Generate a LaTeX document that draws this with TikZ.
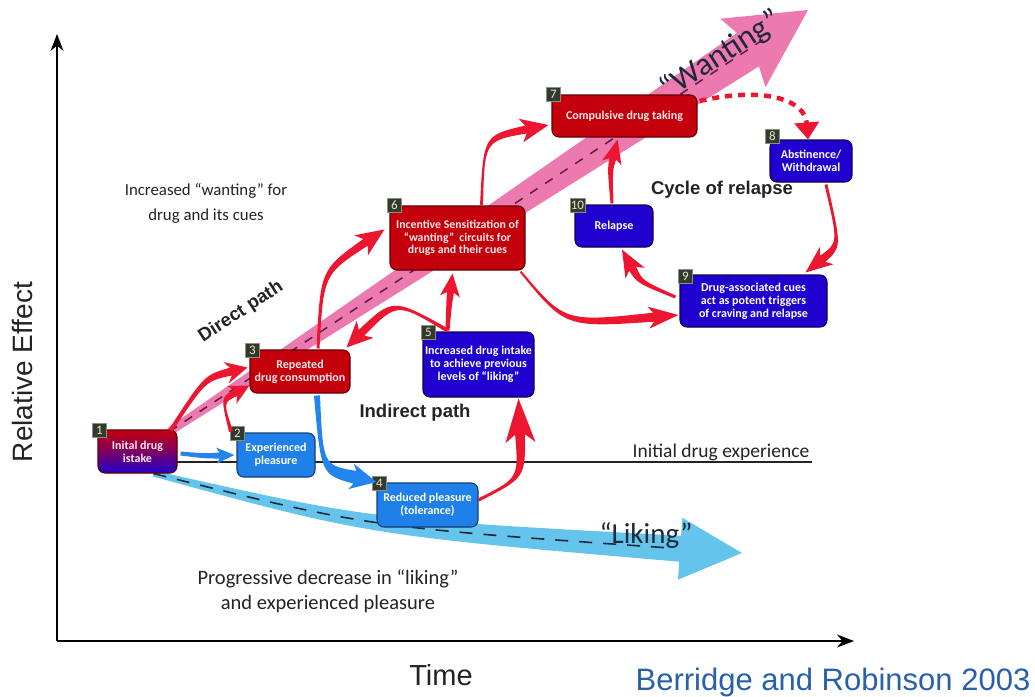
\documentclass[tikz,border=0pt]{standalone}
\usepackage{fontspec}
\setmainfont{Carlito}
\newfontfamily\arialfont{Liberation Sans}
\usetikzlibrary{calc,arrows.meta}

\definecolor{boxred}{RGB}{196,0,12}
\definecolor{boxredline}{RGB}{100,0,0}
\definecolor{boxblue}{RGB}{32,128,234}
\definecolor{boxblueline}{RGB}{20,60,120}
\definecolor{boxdeep}{RGB}{32,0,206}
\definecolor{boxdeepline}{RGB}{20,0,80}
\definecolor{arrred}{RGB}{236,22,48}
\definecolor{arrblue}{RGB}{34,132,236}
\definecolor{wantpink}{RGB}{236,122,174}
\definecolor{wantdash}{RGB}{100,25,70}
\definecolor{likeblue}{RGB}{100,196,236}
\definecolor{likedash}{RGB}{30,40,60}
\definecolor{tagfill}{RGB}{48,58,46}
\definecolor{tagtext}{RGB}{235,230,200}
\definecolor{citeblue}{RGB}{40,96,170}
\definecolor{inktext}{RGB}{35,35,35}

\pgfdeclarelayer{paper}
\pgfdeclarelayer{back}
\pgfsetlayers{paper,back,main}

% Tapered, curved arrow: start, control, tip, tail half-width,
% shaft half-width at the head, head half-width, head length,
% barb sweep, fill style
\newcommand\fatarrow[9]{%
  \coordinate (fa-s) at (#1);
  \coordinate (fa-c) at (#2);
  \coordinate (fa-e) at (#3);
  \coordinate (fa-b) at ($(fa-e)!#7pt!(fa-c)$);
  \pgfmathsetmacro\fabarb{#7+#8}%
  \pgfmathsetmacro\famid{0.5*(#4+#5)}%
  \coordinate (fa-k) at ($(fa-e)!\fabarb pt!(fa-c)$);
  \fill[#9] ($(fa-s)!#4pt!-90:(fa-c)$)
    .. controls ($(fa-c)!\famid pt!-90:(fa-e)$) .. ($(fa-b)!#5pt!90:(fa-c)$)
    -- ($(fa-k)!#6pt!90:(fa-c)$) -- (fa-e) -- ($(fa-k)!#6pt!-90:(fa-c)$)
    -- ($(fa-b)!#5pt!-90:(fa-c)$)
    .. controls ($(fa-c)!\famid pt!90:(fa-e)$) .. ($(fa-s)!#4pt!90:(fa-c)$)
    -- cycle;
}

\tikzset{
  box/.style={rounded corners=7pt, line width=1.1pt, align=center,
    inner sep=2pt, text=white,
    font=\fontsize{12}{13}\selectfont\bfseries},
  redbox/.style={box, fill=boxred, draw=boxredline, text={rgb,255:red,255;green,232;blue,232}},
  bluebox/.style={box, fill=boxblue, draw=boxblueline},
  deepbox/.style={box, fill=boxdeep, draw=boxdeepline},
  tag/.style={fill=tagfill, draw=tagtext!50!tagfill, line width=0.6pt,
    text=tagtext, inner sep=1pt, minimum width=14pt, minimum height=14pt,
    font=\fontsize{13}{13}\selectfont},
  axis/.style={line width=2pt, -{Stealth[length=17pt,width=13pt]}},
  plain/.style={text=inktext, align=center},
  pathlabel/.style={text=inktext, font=\arialfont\bfseries\fontsize{18.5}{18.5}\selectfont},
}

\begin{document}
\begin{tikzpicture}[x=1pt,y=-1pt]
\useasboundingbox (0,0) rectangle (1035,696);
\begin{pgfonlayer}{paper}
  \fill[white] (0,0) rectangle (1035,696);
\end{pgfonlayer}

% ---- stages ----
\node[redbox, minimum width=79pt, minimum height=43pt,
  top color=boxred, bottom color=boxdeep, middle color=boxred!55!boxdeep]
  (n1) at (137.5,451.5) {Inital drug\\istake};
\node[bluebox, minimum width=78pt, minimum height=44pt] (n2) at (276,455) {Experienced\\pleasure};
\node[redbox, minimum width=100pt, minimum height=43pt] (n3) at (300,371.5) {Repeated\\drug consumption};
\node[bluebox, minimum width=101pt, minimum height=44pt] (n4) at (427.5,505) {Reduced pleasure\\(tolerance)};
\node[deepbox, minimum width=103pt, minimum height=65pt] (n5) at (478.5,364.5) {Increased drug intake\\to achieve previous\\levels of “liking”};
\node[redbox, minimum width=135pt, minimum height=64pt, font=\fontsize{11.8}{12.5}\selectfont\bfseries] (n6) at (457.5,238) {Incentive Sensitization of\\“wanting”\ \ circuits for\\drugs and their cues};
\node[redbox, minimum width=145pt, minimum height=42pt] (n7) at (624.5,116) {Compulsive drug taking};
\node[deepbox, minimum width=82pt, minimum height=42pt] (n8) at (811,161) {Abstinence/\\Withdrawal};
\node[deepbox, minimum width=147pt, minimum height=52pt] (n9) at (753.5,301) {Drug-associated cues\\act as potent triggers\\of craving and relapse};
\node[deepbox, minimum width=78pt, minimum height=42pt] (n10) at (614,226) {Relapse};

% ---- numbered tags ----
\node[tag] (t1) at ([shift={(2,1)}]n1.north west) {1};
\node[tag] (t2) at ([shift={(1,1)}]n2.north west) {2};
\node[tag] (t3) at ([shift={(3,1)}]n3.north west) {3};
\node[tag] (t4) at ([shift={(3,1)}]n4.north west) {4};
\node[tag] (t5) at ([shift={(6,1)}]n5.north west) {5};
\node[tag] (t6) at ([shift={(5,0)}]n6.north west) {6};
\node[tag] (t7) at ([shift={(2,0)}]n7.north west) {7};
\node[tag] (t8) at ([shift={(3,-3)}]n8.north west) {8};
\node[tag] (t9) at ([shift={(6,2)}]n9.north west) {9};
\node[tag] (t10) at ([shift={(3,1)}]n10.north west) {10};

% ---- background trends ----
\begin{pgfonlayer}{back}
  % axes
  \coordinate (origin) at (57,641);
  \coordinate (ytip) at (57,34);
  \coordinate (xtip) at (854,641);
  \draw[axis] (origin) -- (ytip);
  \draw[axis] (origin) -- (xtip);

  % baseline of the first experience
  \coordinate (ide-a) at (177,462);
  \coordinate (ide-b) at (812,462);
  \draw[line width=1.4pt, inktext] (ide-a) -- (ide-b);

  % "wanting" trend
  \coordinate (wt) at ([shift={(-8,2)}]n1.north east);
  \coordinate (wp) at (808,10);
  \coordinate (wb) at ($(wp)!72pt!(wt)$);
  \coordinate (wk) at ($(wp)!78pt!(wt)$);
  \fill[wantpink] ($(wt)!4pt!90:(wp)$) -- ($(wb)!20pt!90:(wp)$)
    -- ($(wk)!41pt!90:(wp)$) -- (wp) -- ($(wk)!41pt!-90:(wp)$)
    -- ($(wb)!20pt!-90:(wp)$) -- ($(wt)!4pt!-90:(wp)$) -- cycle;
  \draw[wantdash, line width=1.5pt, dash pattern=on 9pt off 9pt]
    (wt) -- ($(wt)!0.93!(wp)$);

  % "liking" trend
  \coordinate (lk-s) at ($(n1.south)!0.4!(n1.south east)$);
  \coordinate (lk-c) at (368,527);
  \coordinate (lk-e) at (742,553);
  \fatarrow{lk-s}{lk-c}{lk-e}{3}{13}{31}{62}{0}{likeblue}
  \draw[likedash, line width=1.6pt, dash pattern=on 13pt off 11pt, shorten >=12pt]
    (lk-s) .. controls (lk-c) .. (fa-b);
\end{pgfonlayer}

% ---- transitions ----
\fatarrow{[shift={(-7,1)}]n1.north east}{205,378}{[shift={(-2,-4)}]n3.west}{2}{4}{11}{17}{5}{arrred}
\fatarrow{[shift={(-45,-1)}]n2.north}{222,400}{[shift={(0,14)}]n3.west}{2}{3.5}{10}{16}{4}{arrred}
\fatarrow{[shift={(18,-1)}]n3.north}{322,272}{[shift={(-5,24)}]n6.north west}{1.5}{4}{12}{23}{5}{arrred}
\fatarrow{[shift={(-31,-1)}]n5.north}{395,300}{[shift={(-4,-2)}]n3.north east}{2}{4}{12}{21}{5}{arrred}
\fatarrow{[shift={(-31,-1)}]n5.north}{449,305}{[shift={(-5,3)}]n6.south}{2}{3.5}{10}{19}{4}{arrred}
\fatarrow{[shift={(0,-5)}]n4.east}{522,478}{[shift={(-16,1)}]n5.south east}{1.5}{5}{15}{36}{8}{arrred}
\fatarrow{[shift={(24,0)}]n6.north}{484,138}{[shift={(-3,9)}]n7.west}{1.5}{4}{12}{23}{5}{arrred}
\fatarrow{[shift={(-5,1)}]n6.south east}{565,325}{[shift={(-1,14)}]n9.west}{1}{4.5}{11}{25}{5}{arrred}
\fatarrow{[shift={(-4,-4)}]n9.west}{640,282}{[shift={(8,2)}]n10.south}{1.5}{4}{11}{22}{5}{arrred}
\fatarrow{[shift={(-2,-1)}]n10.north}{610,170}{[shift={(-7,2)}]n7.south}{1.5}{3.5}{10}{20}{4}{arrred}
\fatarrow{[shift={(15,2)}]n8.south}{840,245}{[shift={(-22,-2)}]n9.north east}{1.5}{4}{11}{22}{5}{arrred}
\fatarrow{[shift={(3,2)}]n1.east}{205,456}{[shift={(-2,0)}]n2.west}{2}{3}{8}{15}{3}{arrblue}
\fatarrow{[shift={(17,2)}]n3.south}{322,470}{[shift={(0,-23)}]n4.west}{3}{6.5}{13}{22}{4}{arrblue}

% abstinence after compulsive use
\coordinate (a78-s) at ([shift={(2,-15)}]n7.east);
\draw[arrred, line width=4.5pt, dash pattern=on 7pt off 6pt,
  -{Triangle[length=17pt,width=24pt]}]
  (a78-s) .. controls (765,86) and (805,100) .. ([shift={(-3,0)}]n8.north);

% ---- labels ----
\node[text=inktext, rotate=90, font=\arialfont\fontsize{28}{28}\selectfont] (ylab) at (22,372) {Relative Effect};
\node[text=inktext, anchor=base, font=\arialfont\fontsize{29}{29}\selectfont] (xlab) at (441,685) {Time};
\node[text=citeblue, anchor=base, font=\arialfont\fontsize{31}{31}\selectfont] (cite) at (833,690) {Berridge and Robinson 2003};
\node[plain, font=\fontsize{16.8}{25}\selectfont] (incw) at (206,203) {Increased “wanting” for\\drug and its cues};
\node[plain, font=\fontsize{20.5}{24.5}\selectfont] (decl) at (328,591) {Progressive decrease in “liking”\\and experienced pleasure};
\node[plain, font=\fontsize{19.5}{20}\selectfont] (ide) at (721,452) {Initial drug experience};
\node[pathlabel, rotate=33] (direct) at (241,312) {Direct path};
\node[pathlabel] (indirect) at (415,413) {Indirect path};
\node[pathlabel] (cycle) at (722,190) {Cycle of relapse};
\node[text=likedash, rotate=33, font=\fontsize{32}{32}\selectfont] (wantlab) at (721,55) {“Wanting”};
\node[text=likedash, font=\fontsize{29}{29}\selectfont] (likelab) at (646,536) {“Liking”};
\end{tikzpicture}
\end{document}
